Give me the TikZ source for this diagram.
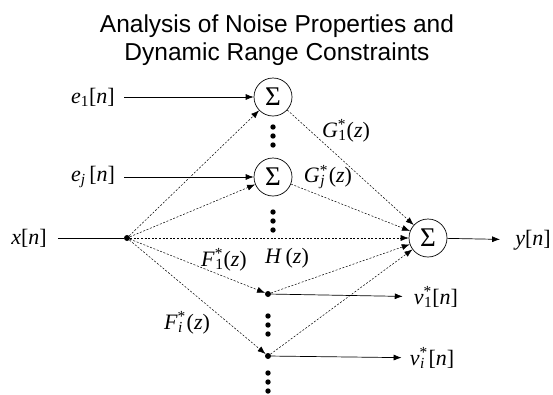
\documentclass[tikz,border=0pt]{standalone}
\usepackage{fontspec}
\setmainfont{Liberation Serif}
\newfontfamily\titlefont{Liberation Sans}
\usetikzlibrary{arrows.meta}
\newcommand\mysupsub[2]{\textsuperscript{\rlap{#1}}\textsubscript{#2}}
\newcommand\myit[1]{\textit{#1}}
\begin{document}
\begin{tikzpicture}[x=1pt,y=-1pt,
  sumnode/.style={circle,draw,line width=0.7pt,minimum size=38pt,inner sep=0pt,font=\fontsize{27}{27}\selectfont},
  bdot/.style={circle,fill,inner sep=0pt,minimum size=6pt},
  lab/.style={inner sep=0pt,font=\fontsize{22}{25}\selectfont},
  sig/.style={-{Latex[length=8pt,width=6pt]},line width=0.7pt},
  dsig/.style={sig,dash pattern=on 2pt off 1.6pt,line width=0.5pt},
  vdot/.style={radius=2.7pt},
]
\useasboundingbox (0,0) rectangle (553,394);

\node[font=\titlefont\fontsize{24.5}{28}\selectfont,align=center] (title) at (277,40)
  {Analysis of Noise Properties and\\Dynamic Range Constraints};

% summing nodes
\node[sumnode] (s1) at (273,97) {Σ};
\node[sumnode] (sj) at (273,177) {Σ};
\node[sumnode] (S)  at (428,238) {Σ};

% branch points
\node[bdot] (xd) at (127,238) {};
\node[bdot] (v1d) at (268,294) {};
\node[bdot] (vid) at (268,356) {};

% labels
\node[lab] (e1) at (93,97) {\myit{e}\textsubscript{1}[\myit{n}]};
\node[lab] (ej) at (93,177) {\myit{e}\textsubscript{\myit{j}}\,[\myit{n}]};
\node[lab] (x)  at (29,238) {\myit{x}[\myit{n}]};
\node[lab] (y)  at (533,240) {\myit{y}[\myit{n}]};
\node[lab] (v1) at (436,297) {\myit{v}\mysupsub{*}{1}[\myit{n}]};
\node[lab] (vi) at (432,358) {\myit{v}\mysupsub{*}{\myit{i}}\,[\myit{n}]};
\node[lab] (g1) at (346,131) {\myit{G}\mysupsub{*}{1}(\myit{z})};
\node[lab] (gj) at (328,177) {\myit{G}\mysupsub{*}{\myit{j}}\,(\myit{z})};
\node[lab] (h)  at (287,258) {\myit{H}\,(\myit{z})};
\node[lab] (f1) at (224,260) {\myit{F}\mysupsub{*}{1}(\myit{z})};
\node[lab] (fi) at (187,323) {\myit{F}\mysupsub{*}{\myit{i}}\,(\myit{z})};

% solid signal lines
\draw[sig,shorten <=9pt] (e1) -- (s1);
\draw[sig,shorten <=9pt] (ej) -- (sj);
\draw[line width=0.7pt,shorten <=11pt] (x) -- (xd);
\draw[sig,shorten >=15pt] (S) -- (y);
\draw[sig,shorten >=11pt] (v1d) -- (v1);
\draw[sig,shorten >=8pt] (vid) -- (vi);

% dotted paths
\draw[dsig] (xd) -- (s1);
\draw[dsig] (xd) -- (sj);
\draw[dsig] (xd) -- (S);
\draw[dsig] (xd) -- (v1d);
\draw[dsig] (xd) -- (vid);
\draw[dsig] (s1) -- (S);
\draw[dsig] (sj) -- (S);
\draw[dsig] (v1d) -- (S);
\draw[dsig] (vid) -- (S);

% ellipsis dots
\foreach \yy in {127,136,145} \fill (273,\yy) circle[vdot];
\foreach \yy in {212,221,230} \fill (273,\yy) circle[vdot];
\foreach \yy in {316,325,334} \fill (268,\yy) circle[vdot];
\foreach \yy in {373,382,391} \fill (268,\yy) circle[vdot];
\end{tikzpicture}
\end{document}
